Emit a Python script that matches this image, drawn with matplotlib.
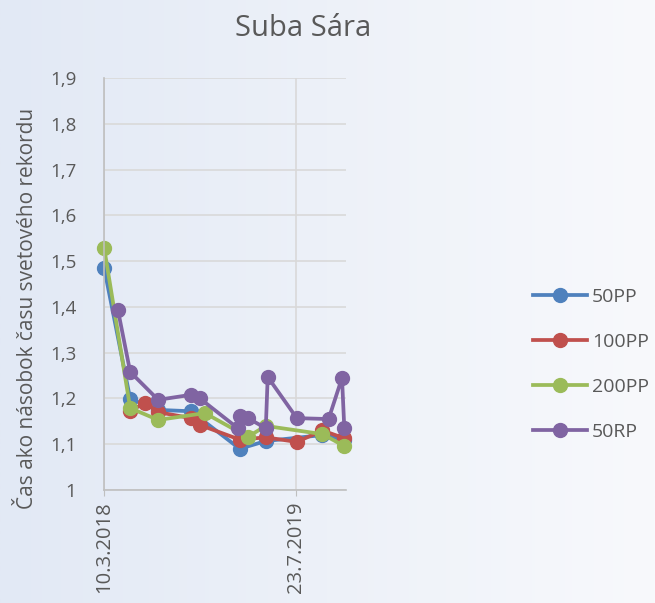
import matplotlib.pyplot as plt
import matplotlib.dates as mdates
import numpy as np
import pandas as pd
from matplotlib.colors import LinearSegmentedColormap
from matplotlib.ticker import MultipleLocator, FuncFormatter

plt.rcParams["font.family"] = ["Open Sans", "DejaVu Sans"]

# %% data
dates_50pp = ["2018-03-10", "2018-05-17", "2018-07-29", "2018-10-23",
              "2019-02-27", "2019-05-06", "2019-10-01", "2019-11-27"]
vals_50pp = [1.485, 1.199, 1.175, 1.172, 1.090, 1.107, 1.120, 1.110]

dates_100pp = ["2018-05-17", "2018-06-25", "2018-07-29",
               "2018-10-23", "2018-11-15", "2019-02-27", "2019-05-06",
               "2019-07-26", "2019-10-01", "2019-11-27"]
vals_100pp = [1.173, 1.190, 1.170, 1.157, 1.142, 1.110, 1.115,
              1.105, 1.130, 1.113]

dates_200pp = ["2018-03-10", "2018-05-17", "2018-07-29", "2018-11-28",
               "2019-03-20", "2019-05-06", "2019-10-01", "2019-11-27"]
vals_200pp = [1.529, 1.179, 1.153, 1.168, 1.116, 1.140, 1.122, 1.096]

dates_50rp = ["2018-04-15", "2018-05-17", "2018-07-29", "2018-10-23",
              "2018-11-15", "2019-02-22", "2019-02-27", "2019-03-20",
              "2019-05-06", "2019-05-11", "2019-07-26", "2019-10-17",
              "2019-11-21", "2019-11-27"]
vals_50rp = [1.393, 1.258, 1.197, 1.208, 1.200, 1.135, 1.162, 1.157,
             1.135, 1.247, 1.157, 1.155, 1.245, 1.135]

series = [
    ("50PP", dates_50pp, vals_50pp, "#4F81BD"),
    ("100PP", dates_100pp, vals_100pp, "#C0504D"),
    ("200PP", dates_200pp, vals_200pp, "#9BBB59"),
    ("50RP", dates_50rp, vals_50rp, "#8064A2"),
]
tick_dates = ["2018-03-10", "2019-07-23"]

# %% plot
fig = plt.figure(figsize=(6.55, 6.03), dpi=100)

# light blue gradient background
bg = fig.add_axes([0, 0, 1, 1], zorder=-10)
grad = np.linspace(0, 1, 256)[None, :]
bg.imshow(grad, extent=[0, 1, 0, 1], aspect="auto",
          cmap=LinearSegmentedColormap.from_list("bg", ["#E2E9F5", "#F8F9FC"]))
bg.axis("off")

ax = fig.add_axes([0.159, 0.1874, 0.369, 0.6832])
ax.patch.set_alpha(0)

for name, d, v, c in series:
    ax.plot(pd.to_datetime(d), v, color=c, lw=2.7, marker="o", ms=10,
            label=name, clip_on=False)

ax.set_ylim(1.0, 1.9)
ax.yaxis.set_major_locator(MultipleLocator(0.1))
ax.yaxis.set_major_formatter(
    FuncFormatter(lambda y, p: "1" if abs(y - 1) < 1e-9 else f"{y:.1f}".replace(".", ",")))
ax.set_xlim(pd.Timestamp("2018-03-10"), pd.Timestamp("2019-12-01"))
ax.set_xticks(pd.to_datetime(tick_dates))
ax.xaxis.set_major_formatter(mdates.DateFormatter("%-d.%-m.%Y"))
plt.setp(ax.get_xticklabels(), rotation=90)

ax.grid(True, color="#D9D9D9", lw=1.2)
ax.set_axisbelow(True)
for s in ["top", "right"]:
    ax.spines[s].set_visible(False)
for s in ["left", "bottom"]:
    ax.spines[s].set_color("#BFBFBF")
    ax.spines[s].set_linewidth(1.2)
ax.tick_params(axis="y", length=0, labelsize=13.5, colors="#595959", pad=20)
ax.tick_params(axis="x", length=4, color="#BFBFBF", labelsize=14.5,
               colors="#595959", pad=4)

ax.set_ylabel("Čas ako násobok času svetového rekordu", fontsize=15,
              color="#595959")
ax.yaxis.set_label_coords(-0.275, 0.44)
fig.text(0.463, 0.953, "Suba Sára", ha="center", va="center", fontsize=21,
         color="#595959")

leg = ax.legend(loc="center left", bbox_to_anchor=(1.70, 0.305), frameon=False,
                fontsize=14, handlelength=2.8, labelspacing=1.38,
                handletextpad=0.25, labelcolor="#595959")

fig.savefig("out.png", dpi=100)
